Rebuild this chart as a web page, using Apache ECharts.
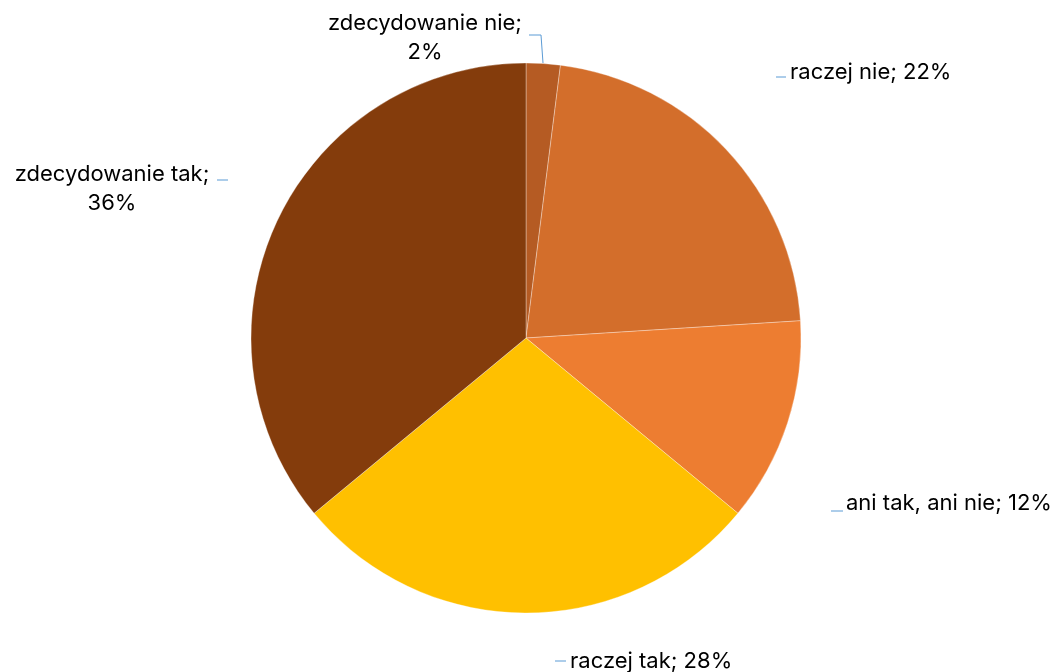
<!DOCTYPE html>
<html>
<head>
<meta charset="utf-8">
<script src="https://cdn.jsdelivr.net/npm/echarts@6/dist/echarts.min.js"></script>
<style>html,body{margin:0;padding:0;background:#fff}#c{width:1057px;height:672px}</style>
</head>
<body>
<div id="c"></div>
<script>
const categories = ['zdecydowanie nie', 'raczej nie', 'ani tak, ani nie', 'raczej tak', 'zdecydowanie tak'];
const values = [2, 22, 12, 28, 36];
const colors = ['#B55B23', '#D36E2B', '#ED7D31', '#FFC000', '#843C0C'];

// label placement (layout only)
const labelPos = [
  { x: 425, y: 38, align: 'center', line: [[529, 35], [541, 35], [543, 63]] },
  { x: 790, y: 72, align: 'left', line: [[776, 77], [786, 77]] },
  { x: 846, y: 503, align: 'left', line: [[831, 511], [843, 511]] },
  { x: 570, y: 661, align: 'left', line: [[555, 661], [566, 661]] },
  { x: 112, y: 189, align: 'center', line: [[217, 180], [228, 180]] }
];

const chart = echarts.init(document.getElementById('c'), null, { renderer: 'canvas' });
chart.setOption({
  animation: false,
  backgroundColor: '#ffffff',
  series: [{
    type: 'pie',
    center: [526, 338],
    radius: [0, 275],
    startAngle: 90,
    clockwise: true,
    avoidLabelOverlap: false,
    data: categories.map((n, i) => ({ name: n, value: values[i], itemStyle: { color: colors[i] } })),
    itemStyle: { borderColor: 'rgba(255,255,255,0.55)', borderWidth: 0.6 },
    emphasis: { disabled: true },
    label: {
      show: true,
      position: 'outside',
      formatter: p => {
        if (p.dataIndex === 0 || p.dataIndex === 4) return p.name + ';\n' + p.value + '%';
        return p.name + '; ' + p.value + '%';
      },
      fontFamily: 'Inter, "Noto Sans", sans-serif',
      fontSize: 22,
      lineHeight: 29,
      color: '#000000',
      align: 'center'
    },
    labelLine: { show: true, lineStyle: { color: '#5B9BD5', width: 1 }, smooth: false },
    labelLayout: function (params) {
      const p = labelPos[params.dataIndex];
      return {
        x: p.x,
        y: p.y,
        align: p.align,
        verticalAlign: 'middle',
        labelLinePoints: p.line
      };
    }
  }]
});
</script>
</body>
</html>
